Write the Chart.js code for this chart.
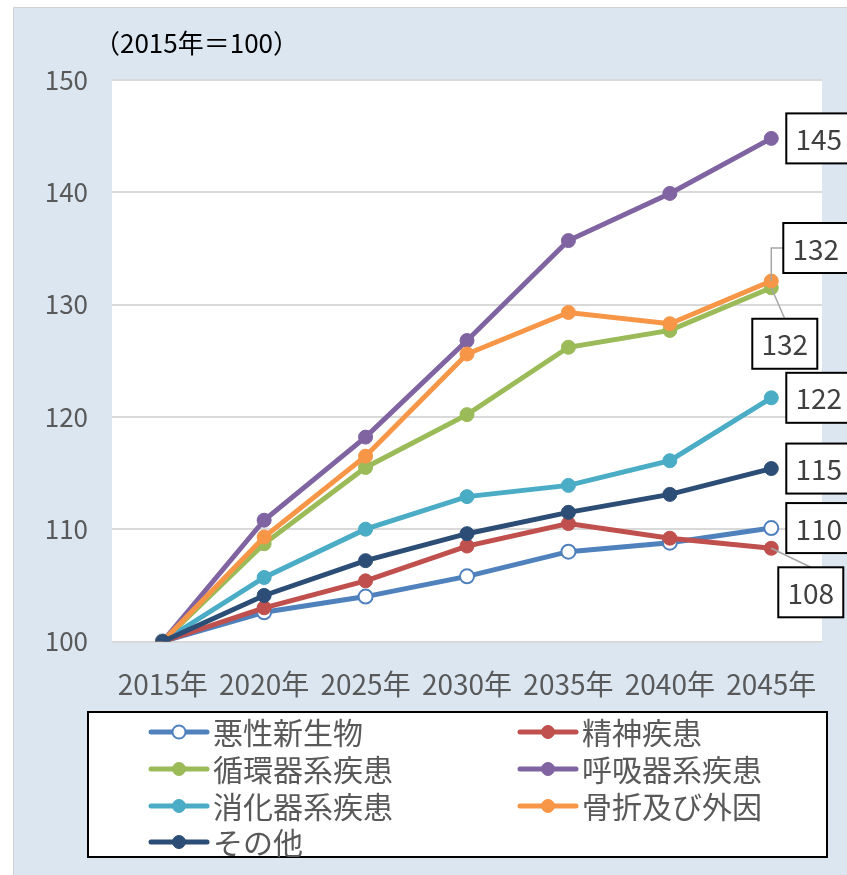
<!DOCTYPE html>
<html>
<head>
<meta charset="utf-8">
<script src="https://cdn.jsdelivr.net/npm/chart.js@4.4.1/dist/chart.umd.min.js"></script>
<style>
  html, body { margin: 0; padding: 0; background: #fff; }
  #wrap { width: 847px; height: 875px; }
</style>
</head>
<body>
<div id="wrap"><canvas id="chart" width="847" height="875"></canvas></div>
<script>
// 2015年 = 100 とした指数
const years = ["2015年", "2020年", "2025年", "2030年", "2035年", "2040年", "2045年"];
const akusei     = [100, 102.6, 104.0, 105.8, 108.0, 108.8, 110.1];
const seishin    = [100, 103.0, 105.4, 108.5, 110.5, 109.2, 108.3];
const junkanki   = [100, 108.7, 115.5, 120.2, 126.2, 127.7, 131.5];
const kokyuki    = [100, 110.8, 118.2, 126.8, 135.7, 139.9, 144.8];
const shokaki    = [100, 105.7, 110.0, 112.9, 113.9, 116.1, 121.7];
const kossetsu   = [100, 109.3, 116.5, 125.6, 129.3, 128.3, 132.1];
const sonota     = [100, 104.1, 107.2, 109.6, 111.5, 113.1, 115.4];
const seriesNames = ["悪性新生物", "精神疾患", "循環器系疾患", "呼吸器系疾患", "消化器系疾患", "骨折及び外因", "その他"];
const yTicks = [100, 110, 120, 130, 140, 150];

const FONT = '"Noto Sans CJK JP", "Noto Sans", sans-serif';
const colors = ["#4f81bd", "#c0504d", "#9bbb59", "#8064a2", "#4bacc6", "#f79646", "#2c4d75"];
const allData = [akusei, seishin, junkanki, kokyuki, shokaki, kossetsu, sonota];

// ラベル位置（末尾の点からのずれ）と引き出し線
const labelPos = [
    { dx: 15, dy: -25 },
    { dx: 7, dy: 19, leader: "top" },
    { dx: -19, dy: 31, leader: "top" },
    { dx: 15, dy: -25 },
    { dx: 15, dy: -25 },
    { dx: 12, dy: -58, leader: "elbow" },
    { dx: 15, dy: -25 }
];

const datasets = allData.map((d, i) => ({
    label: seriesNames[i],
    data: d,
    borderColor: colors[i],
    backgroundColor: colors[i],
    borderWidth: 5,
    pointRadius: 7,
    pointHoverRadius: 7,
    pointBackgroundColor: i === 0 ? "#ffffff" : colors[i],
    pointBorderColor: colors[i],
    pointBorderWidth: i === 0 ? 2 : 1,
    tension: 0,
    order: 6 - i
}));

// 背景
const bgPlugin = {
    id: "bg",
    beforeDraw(chart) {
        const ctx = chart.ctx;
        const a = chart.chartArea;
        ctx.save();
        ctx.fillStyle = "#ffffff";
        ctx.fillRect(0, 0, chart.width, chart.height);
        ctx.fillStyle = "#dce6f1";
        ctx.fillRect(13, 7, chart.width - 13, chart.height - 7);
        ctx.strokeStyle = "#d0d0d0";
        ctx.lineWidth = 1;
        ctx.beginPath();
        ctx.moveTo(13.5, chart.height);
        ctx.lineTo(13.5, 7.5);
        ctx.lineTo(chart.width, 7.5);
        ctx.stroke();
        ctx.fillStyle = "#ffffff";
        ctx.fillRect(a.left, a.top, a.right - a.left, a.bottom - a.top);
        ctx.restore();
    }
};

// 単位表示・データラベル・凡例
const extrasPlugin = {
    id: "extras",
    afterDatasetsDraw(chart) {
        const ctx = chart.ctx;
        ctx.save();
        chart.data.datasets.forEach((ds, i) => {
            const meta = chart.getDatasetMeta(i);
            const pt = meta.data[meta.data.length - 1];
            const p = labelPos[i];
            const bx = pt.x + p.dx, by = pt.y + p.dy, bw = 65, bh = 50;
            ctx.strokeStyle = "#a6a6a6";
            ctx.lineWidth = 1.5;
            if (p.leader === "top") {
                ctx.beginPath();
                ctx.moveTo(pt.x, pt.y);
                ctx.lineTo(bx + bw / 2, by);
                ctx.stroke();
            } else if (p.leader === "elbow") {
                ctx.beginPath();
                ctx.moveTo(bx, by + bh / 2);
                ctx.lineTo(pt.x, by + bh / 2);
                ctx.lineTo(pt.x, pt.y);
                ctx.stroke();
            }
            ctx.fillStyle = "#ffffff";
            ctx.fillRect(bx, by, bw, bh);
            ctx.strokeStyle = "#000000";
            ctx.lineWidth = 2;
            ctx.strokeRect(bx, by, bw, bh);
            ctx.fillStyle = "#404040";
            ctx.font = "28px " + FONT;
            ctx.textAlign = "center";
            ctx.textBaseline = "middle";
            const v = ds.data[ds.data.length - 1];
            ctx.fillText(String(Math.round(v)), bx + bw / 2, by + bh / 2 + 1);
        });
        ctx.restore();
    },
    afterDraw(chart) {
        const ctx = chart.ctx;
        ctx.save();
        // 単位
        ctx.fillStyle = "#000000";
        ctx.font = "26px " + FONT;
        ctx.textAlign = "left";
        ctx.textBaseline = "middle";
        ctx.fillText("（2015年＝100）", 94, 43);

        // 凡例
        ctx.fillStyle = "#ffffff";
        ctx.fillRect(88, 712, 739, 145);
        ctx.strokeStyle = "#000000";
        ctx.lineWidth = 2;
        ctx.strokeRect(88, 712, 739, 145);
        const cols = [151, 520];
        const rows = [732, 769, 806, 842];
        chart.data.datasets.forEach((ds, i) => {
            const x0 = cols[i % 2];
            const y0 = rows[Math.floor(i / 2)];
            ctx.strokeStyle = ds.borderColor;
            ctx.lineWidth = 5;
            ctx.lineCap = "round";
            ctx.beginPath();
            ctx.moveTo(x0, y0);
            ctx.lineTo(x0 + 56, y0);
            ctx.stroke();
            ctx.beginPath();
            ctx.arc(x0 + 28, y0, 6.5, 0, Math.PI * 2);
            ctx.fillStyle = ds.pointBackgroundColor;
            ctx.fill();
            ctx.lineWidth = ds.pointBorderWidth;
            ctx.strokeStyle = ds.pointBorderColor;
            ctx.stroke();
            ctx.fillStyle = "#595959";
            ctx.font = "30px " + FONT;
            ctx.textAlign = "left";
            ctx.textBaseline = "middle";
            ctx.fillText(ds.label, x0 + 62, y0 + 1);
        });
        ctx.restore();
    }
};

new Chart(document.getElementById("chart"), {
    type: "line",
    data: { labels: years, datasets: datasets },
    options: {
        responsive: false,
        animation: false,
        devicePixelRatio: 1,
        layout: { padding: { top: 80, right: 25, bottom: 173.5, left: 0 } },
        plugins: {
            legend: { display: false },
            tooltip: { enabled: false }
        },
        scales: {
            x: {
                offset: true,
                grid: { display: false, drawTicks: false },
                border: { display: false },
                ticks: {
                    color: "#595959",
                    font: { size: 28, family: FONT },
                    padding: 26,
                    maxRotation: 0,
                    autoSkip: false
                },
                afterFit(scale) { scale.height = 60; }
            },
            y: {
                min: yTicks[0],
                max: yTicks[yTicks.length - 1],
                afterBuildTicks(scale) { scale.ticks = yTicks.map(v => ({ value: v })); },
                grid: { color: "#d9d9d9", lineWidth: 2, drawTicks: false },
                border: { display: false },
                ticks: {
                    color: "#595959",
                    font: { size: 26, family: FONT },
                    padding: 24
                },
                afterFit(scale) { scale.width = 112; }
            }
        }
    },
    plugins: [bgPlugin, extrasPlugin]
});
</script>
</body>
</html>
